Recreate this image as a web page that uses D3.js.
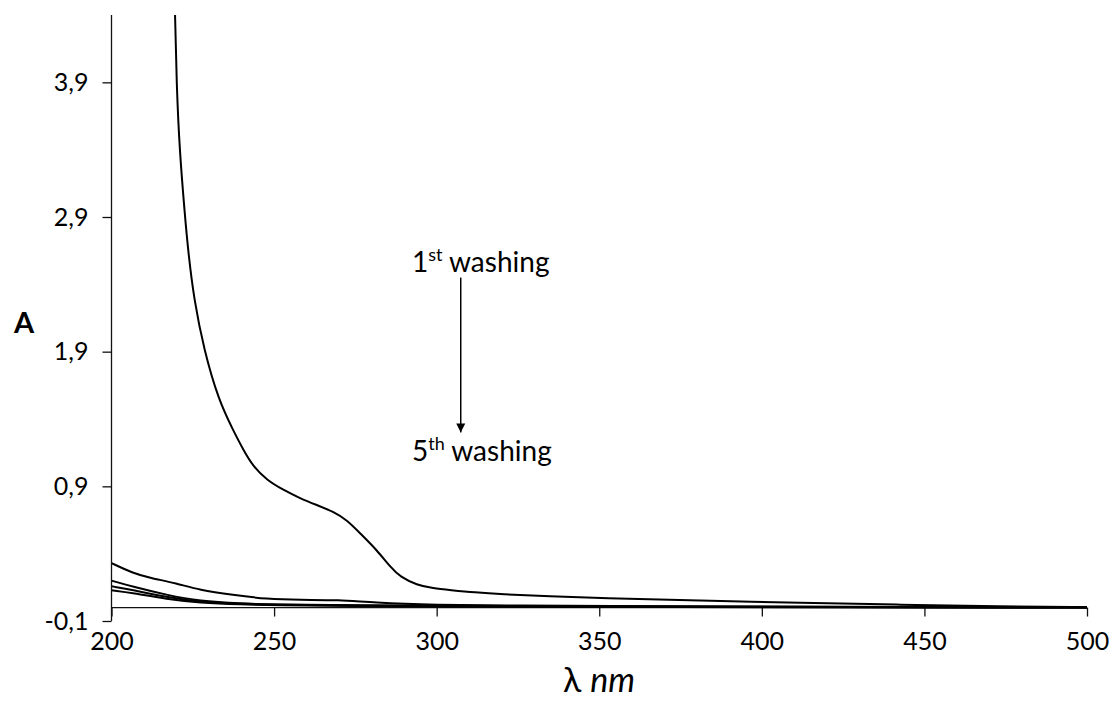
<!DOCTYPE html>
<html>
<head>
<meta charset="utf-8">
<script src="https://cdn.jsdelivr.net/npm/d3@7"></script>
<style>
  html, body { margin: 0; padding: 0; background: #fff; }
  svg { display: block; }
  text { font-family: Lato, "Open Sans", sans-serif; fill: #000; }
</style>
</head>
<body>
<svg id="chart" width="1112" height="702"></svg>
<script>
// UV-Vis absorbance spectra of successive washings
const xTicks = [200, 250, 300, 350, 400, 450, 500];
const yTicks = [-0.1, 0.9, 1.9, 2.9, 3.9];

// 1st washing
const wl1  = [219.3, 219.54, 220.0, 220.92, 222.62, 223.54, 225.38, 228.46, 232.92, 237.38, 240.55, 243.63, 247.75, 252.86, 258.0, 263.14, 268.25, 272.37, 276.46, 281.6, 286.0, 288.77, 293.9, 298.9, 304.15, 311.8, 319.5, 334.9, 350.3, 381.1, 411.8, 442.6, 473.4, 500];
const abs1 = [4.70, 4.40, 3.90, 3.397, 2.90, 2.655, 2.284, 1.913, 1.541, 1.318, 1.170, 1.046, 0.947, 0.873, 0.811, 0.761, 0.712, 0.650, 0.551, 0.427, 0.294, 0.229, 0.167, 0.143, 0.130, 0.112, 0.099, 0.082, 0.071, 0.052, 0.035, 0.021, 0.009, 0.002];

// 2nd washing
const wl2  = [200, 206.5, 211.8, 220, 227, 237.3, 247.8, 258, 270, 280.3, 299, 325, 350, 400, 450, 500];
const abs2 = [0.33, 0.256, 0.22, 0.18, 0.13, 0.093, 0.063, 0.056, 0.057, 0.036, 0.019, 0.014, 0.012, 0.008, 0.004, 0.002];

// 3rd to 5th washings share one wavelength grid
const wlLow = [200, 206.5, 217, 227, 240, 250, 275, 300, 350, 400, 450, 500];
const abs3  = [0.20, 0.155, 0.093, 0.048, 0.029, 0.022, 0.018, 0.012, 0.008, 0.005, 0.002, 0.0];
const abs4  = [0.158, 0.13, 0.078, 0.041, 0.026, 0.020, 0.015, 0.010, 0.006, 0.004, 0.001, 0.0];
const abs5  = [0.128, 0.108, 0.063, 0.036, 0.022, 0.017, 0.012, 0.008, 0.005, 0.003, 0.001, 0.0];

// arrow annotation between the first and last washing labels
const arrowWl = 307.4;
const arrowFrom = 2.45;
const arrowTo = 1.30;
const labelWl = 292.4;
const labelTopA = 2.49;
const labelBottomA = 1.09;

const svg = d3.select("#chart");
const x = d3.scaleLinear().domain([200, 500]).range([111.5, 1087]);
const y = d3.scaleLinear().domain([-0.1, 4.4]).range([621, 15]);

const defs = svg.append("defs");
defs.append("clipPath").attr("id", "plotClip")
  .append("rect").attr("x", x(200)).attr("y", y(4.4))
  .attr("width", x(500) - x(200) + 2).attr("height", y(-0.1) - y(4.4));

defs.append("marker")
  .attr("id", "arrowHead").attr("viewBox", "0 0 10 10")
  .attr("refX", 10).attr("refY", 5)
  .attr("markerWidth", 9).attr("markerHeight", 10)
  .attr("markerUnits", "userSpaceOnUse")
  .attr("orient", "auto")
  .append("path").attr("d", "M0,0 L10,5 L0,10 Z").attr("fill", "#000");

// y axis
const yAxis = svg.append("g")
  .attr("transform", `translate(${x(200)},0)`)
  .call(d3.axisLeft(y).tickValues(yTicks).tickSize(9).tickPadding(14)
    .tickFormat(d => d3.format(".1f")(d).replace(".", ",").replace("−", "-")));
yAxis.select(".domain").attr("d", `M0,${y(4.4)}V${y(-0.1)}`);

// x axis crossing at A = 0
const xAxis = svg.append("g")
  .attr("transform", `translate(0,${y(0)})`)
  .call(d3.axisBottom(x).tickValues(xTicks).tickSize(9).tickPadding(16));
xAxis.select(".domain").attr("d", `M${x(200)},0H${x(500)}`);

svg.selectAll(".tick text").attr("font-size", 25).attr("font-family", "Lato, sans-serif").attr("fill", "#000");
svg.selectAll(".tick line, .domain").attr("stroke", "#111").attr("stroke-width", 1.3);

// spectra
const line = d3.line().x(d => x(d[0])).y(d => y(d[1])).curve(d3.curveBasis);
const series = [
  d3.zip(wl1, abs1),
  d3.zip(wl2, abs2),
  d3.zip(wlLow, abs3),
  d3.zip(wlLow, abs4),
  d3.zip(wlLow, abs5)
];
svg.append("g").attr("clip-path", "url(#plotClip)")
  .selectAll("path").data(series).join("path")
  .attr("d", line)
  .attr("fill", "none")
  .attr("stroke", "#000")
  .attr("stroke-width", 2);

// annotation
const t1 = svg.append("text").attr("x", x(labelWl)).attr("y", y(labelTopA)).attr("font-size", 28);
t1.append("tspan").text("1");
t1.append("tspan").text("st").attr("font-size", 18).attr("dy", -11);
t1.append("tspan").text(" washing").attr("dy", 11);

const t5 = svg.append("text").attr("x", x(labelWl)).attr("y", y(labelBottomA)).attr("font-size", 28);
t5.append("tspan").text("5");
t5.append("tspan").text("th").attr("font-size", 18).attr("dy", -11);
t5.append("tspan").text(" washing").attr("dy", 11);

svg.append("line")
  .attr("x1", x(arrowWl)).attr("x2", x(arrowWl))
  .attr("y1", y(arrowFrom)).attr("y2", y(arrowTo))
  .attr("stroke", "#000").attr("stroke-width", 1.5)
  .attr("marker-end", "url(#arrowHead)");

// axis titles
svg.append("text").attr("x", 24).attr("y", 333)
  .attr("text-anchor", "middle").attr("font-size", 29).attr("font-weight", "bold").text("A");

const xt = svg.append("text").attr("x", 599).attr("y", 692)
  .attr("text-anchor", "middle").attr("font-size", 34);
xt.append("tspan").text("λ ");
xt.append("tspan").text("nm").attr("font-style", "italic");
</script>
</body>
</html>
